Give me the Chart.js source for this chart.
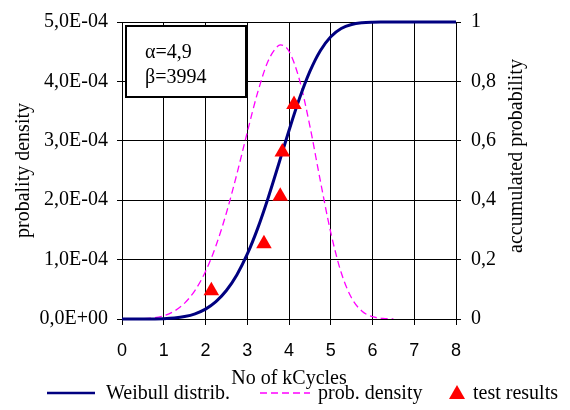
<!DOCTYPE html>
<html><head><meta charset="utf-8">
<script src="https://cdn.jsdelivr.net/npm/chart.js@4/dist/chart.umd.min.js"></script>
<style>html,body{margin:0;padding:0;background:#fff;}#wrap{width:570px;height:410px;position:relative;}</style>
</head><body><div id="wrap"><canvas id="c" width="570" height="410"></canvas></div>
<script>
// x positions (kCycles) at which curves were read
const kCycles = [0,0.25,0.5,0.75,1,1.25,1.5,1.75,2,2.25,2.5,2.75,3,3.25,3.5,3.75,3.8,4,4.25,4.5,4.75,5,5.25,5.5,5.75,6,6.25,6.5,7,7.5,8];
// accumulated probability (Weibull distrib.), right axis
const weibullCdf = [0,0,0,0.0003,0.0011,0.0034,0.0082,0.0174,0.0332,0.0583,0.0958,0.1484,0.2181,0.3052,0.4076,0.5201,0.5432,0.6348,0.7423,0.8337,0.9035,0.9506,0.9781,0.9917,0.9974,0.9994,0.9999,1,1,1,1];
// probability density, left axis (ends at 6.5 kCycles)
const probDensity = [0,0,0.0000004,0.0000018,0.0000055,0.0000132,0.0000267,0.0000483,0.0000799,0.0001232,0.0001785,0.0002437,0.0003142,0.0003815,0.0004343,0.0004604,0.0004615,0.0004507,0.0004028,0.0003249,0.0002328,0.0001457,0.0000782,0.0000353,0.0000131,0.0000039,0.0000009,0.0000002];
// test results
const testCycles = [2.14,3.40,3.79,3.84,4.12];
const testProb = [0.095,0.253,0.413,0.562,0.722];
// tick labels
const xTickLabels = ['0','1','2','3','4','5','6','7','8'];
const densityTickLabels = ['0,0E+00','1,0E-04','2,0E-04','3,0E-04','4,0E-04','5,0E-04'];
const probTickLabels = ['0','0,2','0,4','0,6','0,8','1'];
const seriesLabels = ['Weibull distrib.','prob. density','test results'];
const paramLines = ['\u03B1=4,9','\u03B2=3994'];

const SERIF = '"Liberation Serif", "Times New Roman", Times, serif';
const SANS = '"Liberation Sans", Arial, Helvetica, sans-serif';
const NAVY = '#000080', MAGENTA = '#FF00FF', RED = '#FF0000';

const overlay = {
  id:'overlay',
  beforeDatasetsDraw(chart){
    const ctx = chart.ctx, a = chart.chartArea;
    ctx.save();
    const bx = a.left + 4, by = a.top + 4, bw = 120, bh = 71;
    ctx.fillStyle = '#fff';
    ctx.fillRect(bx, by, bw, bh);
    ctx.lineWidth = 2; ctx.strokeStyle = '#000';
    ctx.strokeRect(bx, by, bw, bh);
    ctx.fillStyle = '#000';
    ctx.font = '20px ' + SERIF;
    ctx.textBaseline = 'alphabetic';
    ctx.textAlign = 'left';
    ctx.fillText(paramLines[0], bx + 19, by + 32);
    ctx.fillText(paramLines[1], bx + 19, by + 57);
    ctx.restore();
  },
  afterDraw(chart){
    const ctx = chart.ctx;
    ctx.save();
    ctx.fillStyle = '#000';
    ctx.font = '20px ' + SERIF;
    ctx.textAlign = 'center'; ctx.textBaseline = 'middle';
    ctx.translate(517, 156);
    ctx.rotate(-Math.PI/2);
    ctx.fillText('accumulated probability', 0, 0);
    ctx.restore();
    ctx.save();
    const ly = 393;
    ctx.font = '20px ' + SERIF;
    ctx.textBaseline = 'middle'; ctx.textAlign = 'left';
    ctx.strokeStyle = NAVY; ctx.lineWidth = 2.5;
    ctx.beginPath(); ctx.moveTo(47, ly); ctx.lineTo(95, ly); ctx.stroke();
    ctx.fillStyle = '#000';
    ctx.fillText(seriesLabels[0], 106, ly + 1);
    ctx.strokeStyle = MAGENTA; ctx.lineWidth = 1.5; ctx.setLineDash([7,4]);
    ctx.beginPath(); ctx.moveTo(260, ly); ctx.lineTo(310, ly); ctx.stroke();
    ctx.setLineDash([]);
    ctx.fillText(seriesLabels[1], 318, ly + 1);
    ctx.fillStyle = RED;
    ctx.beginPath(); ctx.moveTo(457, ly - 8); ctx.lineTo(465, ly + 6); ctx.lineTo(449, ly + 6); ctx.closePath(); ctx.fill();
    ctx.fillStyle = '#000';
    ctx.fillText(seriesLabels[2], 473, ly + 1);
    ctx.restore();
  }
};

new Chart(document.getElementById('c'), {
  type: 'scatter',
  data: {
    datasets: [
      {
        label: seriesLabels[2], yAxisID: 'y1', order: 0,
        data: testCycles.map((x,i)=>({x:x, y:testProb[i]})),
        pointStyle: 'triangle', pointRadius: 9, pointBackgroundColor: RED, pointBorderColor: RED, pointBorderWidth: 0,
        showLine: false
      },
      {
        label: seriesLabels[0], yAxisID: 'y1', order: 1,
        data: kCycles.map((x,i)=>({x:x, y:weibullCdf[i]})),
        showLine: true, borderColor: NAVY, borderWidth: 3, pointRadius: 0, cubicInterpolationMode: 'monotone', clip: 3
      },
      {
        label: seriesLabels[1], yAxisID: 'y', order: 2,
        data: probDensity.map((y,i)=>({x:kCycles[i], y:y})),
        showLine: true, borderColor: MAGENTA, borderWidth: 1.3, borderDash: [7,4], pointRadius: 0, cubicInterpolationMode: 'monotone'
      }
    ]
  },
  options: {
    responsive: false, animation: false, devicePixelRatio: 1,
    layout: { padding: { top: 17, left: 0, right: 0, bottom: 0 } },
    plugins: { legend: { display: false }, tooltip: { enabled: false } },
    scales: {
      x: {
        type: 'linear', min: 0, max: 8,
        ticks: { stepSize: 1, color: '#000', font: { family: SANS, size: 18 }, padding: 15,
                 callback: (v, i) => xTickLabels[i] },
        grid: { color: '#000', lineWidth: 1, tickLength: 6 },
        border: { color: '#000', width: 1 },
        title: { display: true, text: 'No of kCycles', color: '#000', font: { family: SERIF, size: 20 }, padding: { top: 0, bottom: 19 } },
        afterFit(s) { s.height = 91; }
      },
      y: {
        position: 'left', min: 0, max: 0.0005,
        ticks: { stepSize: 0.0001, color: '#000', font: { family: SERIF, size: 20 }, padding: 9,
                 callback: (v, i) => densityTickLabels[i] },
        grid: { color: '#000', lineWidth: 1, tickLength: 5 },
        border: { color: '#000', width: 1 },
        title: { display: true, text: 'probality density', color: '#000', font: { family: SERIF, size: 20 }, padding: { top: 12, bottom: 0 } },
        afterFit(s) { s.width = 122; }
      },
      y1: {
        position: 'right', min: 0, max: 1,
        ticks: { stepSize: 0.2, color: '#000', font: { family: SERIF, size: 20 }, padding: 10,
                 callback: (v, i) => probTickLabels[i] },
        grid: { drawOnChartArea: false, color: '#000', lineWidth: 1, tickLength: 5 },
        border: { color: '#000', width: 1 },
        afterFit(s) { s.width = 114; }
      }
    }
  },
  plugins: [overlay]
});
</script>
</body></html>
